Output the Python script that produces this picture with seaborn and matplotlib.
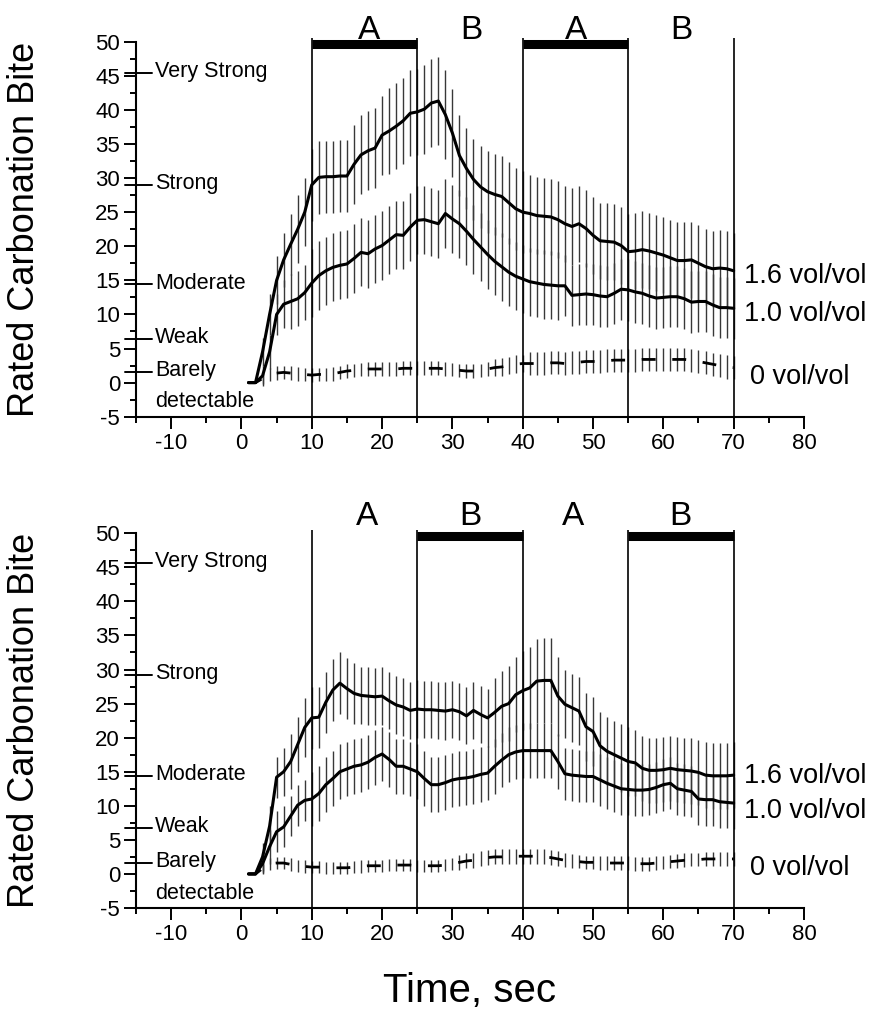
import numpy as np
import matplotlib
matplotlib.use('Agg')
import matplotlib.pyplot as plt
import matplotlib.transforms as mtransforms
import seaborn as sns

# time axis, one reading per second
time_s = list(range(1, 71))

# upper panel: A/B/A/B with bars on the A periods
top_16 = [0, 0, 4.5, 10, 15, 18, 20.3, 22.5, 25, 29,
          30.1, 30.2, 30.2, 30.3, 30.3, 32, 33.4, 34, 34.4, 36.3,
          36.9, 37.6, 38.4, 39.5, 39.7, 40.1, 41, 41.3, 39.3, 36.6,
          33.3, 31.4, 29.8, 28.7, 28, 27.6, 27.3, 26.4, 25.5, 25,
          24.8, 24.5, 24.4, 24.3, 23.9, 23.3, 22.9, 23.3, 22.6, 21.6,
          20.8, 20.7, 20.6, 20.1, 19.2, 19.3, 19.5, 19.3, 19, 18.7,
          18.3, 17.9, 17.9, 18, 17.5, 17, 16.7, 16.8, 16.7, 16.4]
top_16_se = [0, 0, 2, 3, 3.5, 4, 4.5, 5, 5, 5.3,
             5.3, 5.3, 5.3, 5.3, 5.3, 5.8, 5.8, 5.8, 5.8, 5.8,
             6.3, 6.3, 6.3, 6.3, 6.3, 6.5, 6.5, 6.5, 6.5, 6.5,
             6, 6, 6, 6, 6, 6, 6, 6, 6, 6,
             5.6, 5.6, 5.6, 5.6, 5.6, 5.6, 5.6, 5.6, 5.6, 5.6,
             5.6, 5.6, 5.6, 5.6, 5.6, 5.6, 5.6, 5.6, 5.6, 5.6,
             5.6, 5.6, 5.6, 5.6, 5.6, 5.6, 5.6, 5.6, 5.6, 5.6]
top_10 = [0, 0, 1, 4.5, 10, 11.5, 11.9, 12.3, 13.2, 14.6,
          15.7, 16.4, 16.9, 17.2, 17.4, 18.2, 19.1, 18.9, 19.6, 20.1,
          20.9, 21.7, 21.6, 22.8, 23.8, 23.9, 23.6, 23.3, 24.8, 24,
          23.3, 22.2, 21, 19.9, 18.8, 17.8, 17, 16.2, 15.6, 15.2,
          14.8, 14.6, 14.4, 14.3, 14.2, 14.2, 12.8, 12.9, 13, 12.9,
          12.7, 12.6, 13.1, 13.7, 13.6, 13.3, 13.1, 12.7, 12.4, 12.5,
          12.6, 12.6, 12.3, 11.8, 11.9, 11.9, 11.4, 11, 11, 10.9]
top_10_se = [0, 0, 1.5, 2.5, 3, 3.5, 4, 4, 4, 5,
             5, 5, 5, 5, 5, 5, 5, 5, 5, 5,
             5, 5, 5, 5, 5, 5, 5, 5, 5, 5,
             5, 5, 5, 5, 5, 5, 5, 5, 5, 5,
             5, 5, 5, 5, 5, 4.5, 4.5, 4.5, 4.5, 4.5,
             4.5, 4.5, 4.5, 4.5, 4.5, 4.5, 4.5, 4.5, 4.5, 4.5,
             4.5, 4.5, 4.5, 4.5, 4.5, 4.5, 4.5, 4.5, 4.5, 4.5]
top_00 = [0, 0, 0.6, 1.2, 1.4, 1.5, 1.4, 1.3, 1.2, 1.1,
          1.2, 1.2, 1.3, 1.5, 1.7, 1.8, 1.9, 2, 2, 2,
          2, 2, 2.1, 2.1, 2.1, 2.1, 2.1, 2.1, 2, 1.9,
          1.8, 1.7, 1.7, 1.8, 2, 2.2, 2.3, 2.5, 2.7, 2.8,
          2.8, 2.8, 2.8, 2.9, 2.9, 2.8, 2.9, 3, 3.1, 3.1,
          3.1, 3.2, 3.3, 3.3, 3.3, 3.3, 3.4, 3.4, 3.4, 3.4,
          3.4, 3.4, 3.4, 3.3, 3.1, 2.9, 2.7, 2.5, 2.3, 2.2]
top_00_se = [0, 0, 0.8, 1, 1, 1, 1, 1, 1, 1,
             1, 1, 1, 1, 1, 1, 1, 1, 1, 1,
             1, 1, 1, 1, 1, 1, 1, 1, 1, 1,
             1, 1, 1, 1, 1, 1.3, 1.3, 1.3, 1.3, 1.3,
             1.7, 1.7, 1.7, 1.7, 1.7, 1.7, 1.7, 1.7, 1.7, 1.7,
             1.7, 1.7, 1.7, 1.7, 1.7, 1.7, 1.7, 1.7, 1.7, 1.7,
             1.7, 1.7, 1.7, 1.7, 1.7, 1.7, 1.7, 1.7, 1.7, 1.7]

# lower panel: A/B/A/B with bars on the B periods
bot_16 = [0, 0, 2.5, 7, 14.2, 15, 16.5, 19, 21.5, 22.9,
          23, 25.2, 27, 28, 27.2, 26.5, 26.2, 26.1, 26, 26.1,
          25.4, 24.8, 24.5, 24, 24.2, 24.1, 24.1, 24, 23.9, 24.1,
          23.8, 23.2, 24, 23.4, 22.9, 23.7, 24.6, 25, 26.3, 26.9,
          27.3, 28.3, 28.4, 28.4, 26.1, 24.9, 24.4, 23.9, 21.6, 20.9,
          18.8, 18, 17.5, 17, 16.5, 16.3, 15.5, 15.2, 15.2, 15.3,
          15.5, 15.3, 15.2, 15.1, 14.9, 14.5, 14.4, 14.4, 14.4, 14.5]
bot_16_se = [0, 0, 2, 3, 3, 3.5, 4, 4, 4.3, 4.5,
             4.5, 4.5, 4.5, 4.5, 4.5, 4.5, 4.2, 4.2, 4.2, 4.2,
             4.2, 4.2, 4.2, 4.2, 4.2, 4.2, 4.2, 4.2, 4.2, 4.2,
             4.2, 4.2, 4.2, 4.2, 4.2, 5, 5.2, 5.5, 5.5, 5.8,
             6, 6.2, 6.2, 6.2, 5.8, 5, 5, 5, 5, 5,
             5, 5, 5, 5, 5, 4.8, 4.8, 4.8, 4.8, 4.8,
             4.8, 4.8, 4.8, 4.8, 4.8, 4.8, 4.8, 4.8, 4.8, 4.8]
bot_10 = [0, 0, 1.5, 4, 6.2, 6.9, 8.5, 10.1, 10.8, 11,
          11.8, 13.1, 14, 15, 15.4, 15.8, 16, 16.4, 17.1, 17.6,
          16.8, 15.8, 15.8, 15.4, 15, 14, 13.1, 13.1, 13.4, 13.8,
          14, 14.1, 14.3, 14.6, 14.8, 15.8, 16.7, 17.5, 17.9, 18.1,
          18.1, 18.1, 18.1, 18.1, 16.5, 14.7, 14.5, 14.4, 14.3, 14.3,
          13.8, 13.3, 12.9, 12.5, 12.4, 12.3, 12.3, 12.4, 12.7, 13.1,
          13.3, 12.5, 12.3, 12.1, 11, 10.9, 10.9, 10.6, 10.5, 10.4]
bot_10_se = [0, 0, 1.5, 2.5, 3, 3, 3, 3, 3, 4,
             4, 4, 4, 4, 4, 4, 4, 4, 4, 4,
             4, 4, 4, 4, 4, 4, 4, 4, 4, 4,
             4, 4, 4, 4, 4, 4, 4, 4, 4, 4,
             4, 4, 4, 4, 4, 3.8, 3.8, 3.8, 3.8, 3.8,
             3.8, 3.8, 3.8, 3.8, 3.8, 3.8, 3.8, 3.8, 3.8, 3.8,
             3.8, 3.8, 3.8, 3.8, 3.8, 3.8, 3.8, 3.8, 3.8, 3.8]
bot_00 = [0, 0, 0.8, 1.5, 1.6, 1.6, 1.4, 1.2, 1.1, 1,
          1, 0.9, 0.9, 0.9, 0.9, 1, 1.1, 1.2, 1.2, 1.2,
          1.3, 1.3, 1.3, 1.3, 1.2, 1.2, 1.2, 1.2, 1.3, 1.5,
          1.7, 1.9, 2, 2.2, 2.4, 2.5, 2.5, 2.6, 2.6, 2.6,
          2.6, 2.6, 2.5, 2.4, 2.2, 2, 1.9, 1.8, 1.7, 1.7,
          1.6, 1.6, 1.6, 1.6, 1.6, 1.5, 1.5, 1.5, 1.6, 1.7,
          1.8, 1.9, 2, 2.1, 2.1, 2.2, 2.2, 2.2, 2.2, 2.2]
bot_00_se = [0, 0, 0.7, 0.9, 0.9, 0.9, 0.9, 0.9, 0.9, 0.9,
             0.9, 0.9, 0.9, 0.9, 0.9, 0.9, 0.9, 0.9, 0.9, 0.9,
             0.9, 0.9, 0.9, 0.9, 0.9, 0.9, 0.9, 0.9, 0.9, 0.9,
             1.1, 1.1, 1.1, 1.1, 1.1, 1.1, 1.1, 1.1, 1.1, 1.1,
             1.1, 1.1, 1.1, 1.1, 1.1, 1, 1, 1, 1, 1,
             1, 1, 1, 1, 1, 1, 1, 1, 1, 1,
             1, 1, 1, 1, 1, 1, 1, 1, 1, 1]

# period markers
period_edges = [10, 25, 40, 55, 70]
period_letters = ['A', 'B', 'A', 'B']
top_letter_x = [18.2, 32.7, 47.6, 62.6]
bot_letter_x = [17.8, 32.5, 47.2, 62.4]
top_bars = [(10, 25), (40, 55)]
bot_bars = [(25, 40), (55, 70)]

# verbal anchors of the rating scale
anchor_names = ['Very Strong', 'Strong', 'Moderate', 'Weak', 'Barely']
top_anchor_y = [45.4, 29.0, 14.4, 6.4, 1.6]
bot_anchor_y = [45.6, 29.2, 14.4, 6.7, 1.6]

conc_labels = ['1.6 vol/vol', '1.0 vol/vol', '0 vol/vol']
top_label_y = [15.6, 10.0, 0.8]
bot_label_y = [14.4, 9.2, 0.9]

sns.set_style('ticks')
plt.rcParams['font.family'] = ['Liberation Sans', 'DejaVu Sans']
plt.rcParams['axes.linewidth'] = 1.5
plt.rcParams['axes.unicode_minus'] = False
plt.rcParams['text.color'] = 'black'
plt.rcParams['axes.labelcolor'] = 'black'
plt.rcParams['axes.edgecolor'] = 'black'

fig = plt.figure(figsize=(8.83, 10.09), dpi=100)
ax_top = fig.add_axes([0.154, 0.587, 0.7565, 0.3717])
ax_bot = fig.add_axes([0.154, 0.1001, 0.7565, 0.3714])


def draw_panel(ax, s16, e16, s10, e10, s00, e00, bars, letter_x, letter_y,
               anchor_y, label_y):
    # error bars first, thin vertical strokes
    for vals, err in [(s16, e16), (s10, e10), (s00, e00)]:
        ax.errorbar(time_s, vals, yerr=err, fmt='none', ecolor='#383838',
                    elinewidth=1.0, capsize=0)
    sns.lineplot(x=time_s, y=s16, ax=ax, color='black', linewidth=2.2)
    sns.lineplot(x=time_s, y=s10, ax=ax, color='black', linewidth=2.2)
    sns.lineplot(x=time_s, y=s00, ax=ax, color='black', linewidth=2.0,
                 linestyle=(0, (5, 6)))

    ax.vlines(period_edges, -5, 50.5, color='black', lw=1.2, clip_on=False)
    for x0, x1 in bars:
        ax.hlines(49.6, x0, x1, color='black', lw=6.5, clip_on=False)
    for x, lab in zip(letter_x, period_letters):
        ax.text(x, letter_y, lab, ha='center', va='baseline', fontsize=24,
                clip_on=False)

    ax.set_xlim(-15, 80)
    ax.set_ylim(-5, 50)
    ax.set_xticks(np.arange(-10, 81, 10))
    ax.set_xticks(np.arange(-15, 81, 5), minor=True)
    ax.set_yticks(np.arange(-5, 51, 5))
    ax.set_yticks(np.arange(-5, 51, 2.5), minor=True)
    ax.tick_params(axis='both', which='major', length=8.5, width=1.4,
                   labelsize=16, colors='black', direction='out', pad=3)
    ax.tick_params(axis='both', which='minor', length=4, width=1.4,
                   colors='black', direction='out')
    sns.despine(ax=ax)
    ax.set_xlabel('')
    ax.set_ylabel('Rated Carbonation Bite', fontsize=26)
    ax.yaxis.set_label_coords(-0.14, 0.5)

    trans = mtransforms.blended_transform_factory(ax.transAxes, ax.transData)
    for y, name in zip(anchor_y, anchor_names):
        ax.plot([-0.016, 0.024], [y, y], transform=trans, color='black',
                lw=1.4, clip_on=False)
        ax.text(-12.3, y + 0.2, name, va='center', ha='left', fontsize=15.5)
    ax.text(-12.3, -2.8, 'detectable', va='center', ha='left', fontsize=15.5)

    for y, lab in zip(label_y, conc_labels):
        x = 71.5 if lab != '0 vol/vol' else 72.3
        ax.text(x, y, lab, va='center', ha='left', fontsize=19.5,
                clip_on=False)


draw_panel(ax_top, top_16, top_16_se, top_10, top_10_se, top_00, top_00_se,
           top_bars, top_letter_x, 50.4, top_anchor_y, top_label_y)
draw_panel(ax_bot, bot_16, bot_16_se, bot_10, bot_10_se, bot_00, bot_00_se,
           bot_bars, bot_letter_x, 51.2, bot_anchor_y, bot_label_y)

fig.text(0.532, 0.007, 'Time, sec', ha='center', va='baseline', fontsize=29)

fig.savefig('out.png', dpi=100, facecolor='white')
